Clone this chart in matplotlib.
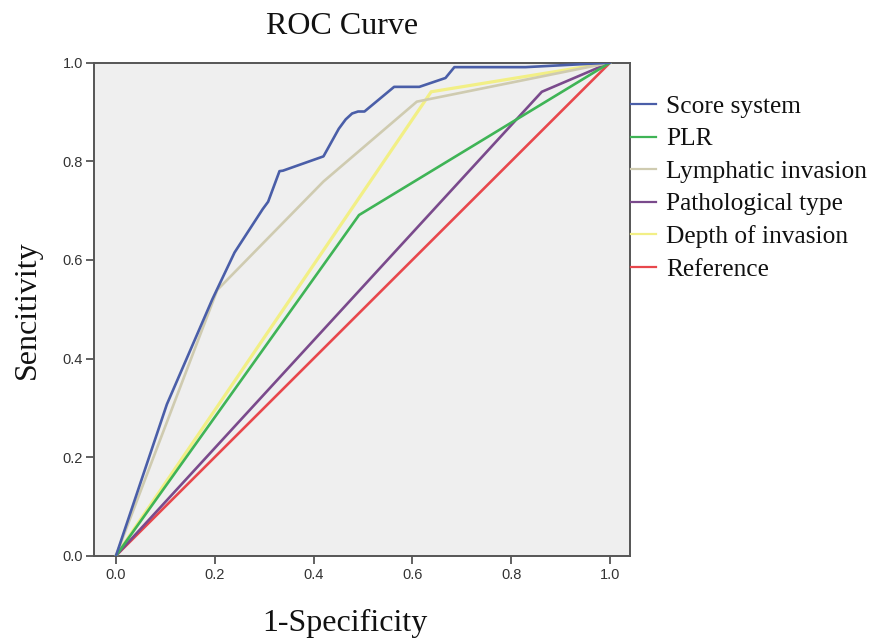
import matplotlib
matplotlib.use("Agg")
import matplotlib.pyplot as plt
from matplotlib.lines import Line2D

# ---- data ----
score_x = [0.0, 0.103, 0.195, 0.24, 0.297, 0.308, 0.331, 0.338, 0.42, 0.451, 0.465, 0.478, 0.49, 0.503, 0.563, 0.614, 0.667, 0.685, 0.829, 1.0]
score_y = [0.0, 0.307, 0.52, 0.615, 0.703, 0.718, 0.78, 0.781, 0.81, 0.866, 0.885, 0.897, 0.901, 0.901, 0.951, 0.951, 0.969, 0.991, 0.991, 1.0]

plr_x = [0.0, 0.492, 1.0]
plr_y = [0.0, 0.691, 1.0]

lymph_x = [0.0, 0.205, 0.42, 0.609, 1.0]
lymph_y = [0.0, 0.539, 0.759, 0.921, 1.0]

path_x = [0.0, 0.862, 1.0]
path_y = [0.0, 0.941, 1.0]

depth_x = [0.0, 0.638, 1.0]
depth_y = [0.0, 0.941, 1.0]

ref_x = [0.0, 1.0]
ref_y = [0.0, 1.0]

labels = ["Score system", "PLR", "Lymphatic invasion", "Pathological type",
          "Depth of invasion", "Reference"]
colors = ["#4a5ea8", "#3fb456", "#cfcbb0", "#7a4a8c", "#f2ef86", "#e8474c"]
ticks = [0.0, 0.2, 0.4, 0.6, 0.8, 1.0]
tick_labels = ["0.0", "0.2", "0.4", "0.6", "0.8", "1.0"]

W, H = 881, 638
fig = plt.figure(figsize=(W / 100, H / 100), dpi=100)
fig.patch.set_facecolor("white")

L, R, T, B = 93.5, 630.0, 62.7, 555.7
ax = fig.add_axes([L / W, 1 - B / H, (R - L) / W, (B - T) / H])
ax.set_facecolor("#efefef")

series = [(score_x, score_y), (plr_x, plr_y), (lymph_x, lymph_y),
          (path_x, path_y), (depth_x, depth_y), (ref_x, ref_y)]
# draw order: reference first, score on top
order = [5, 3, 1, 4, 2, 0]
for i in order:
    xs, ys = series[i]
    ax.plot(xs, ys, color=colors[i], lw=1.9 if i != 4 else 2.3,
            solid_joinstyle="round", zorder=3 + (5 - i) * 0.1)

ax.set_xlim(-0.0455, 1.0405)
ax.set_ylim(0.0, 1.0)
ax.set_xticks(ticks)
ax.set_xticklabels(tick_labels)
ax.set_yticks(ticks)
ax.set_yticklabels(tick_labels)
for sp in ax.spines.values():
    sp.set_color("#555555")
    sp.set_linewidth(1.4)
ax.tick_params(axis="both", direction="out", length=5.5, width=1.3, color="#555555",
               labelsize=10.5, labelcolor="#333333", pad=2)
ax.tick_params(axis="x", pad=3)
for lab in ax.get_xticklabels() + ax.get_yticklabels():
    lab.set_fontfamily("Liberation Sans")

serif = "Liberation Serif"
fig.text(342 / W, 1 - 27 / H, "ROC Curve", fontsize=23, family=serif,
         ha="center", va="center", color="#111111")
fig.text(345 / W, 1 - 623 / H, "1-Specificity", fontsize=23, family=serif,
         ha="center", va="center", color="#111111")
fig.text(27 / W, 1 - 310 / H, "Sencitivity", fontsize=23, family=serif,
         ha="center", va="center", rotation=90, color="#111111")

# legend drawn at the right of the axes
y0, dy = 104, 32.6
for i, (lab, c) in enumerate(zip(labels, colors)):
    yy = 1 - (y0 + i * dy) / H
    fig.add_artist(Line2D([631 / W, 656 / W], [yy, yy], color=c, lw=1.6,
                          transform=fig.transFigure))
    fig.text(666 / W, yy, lab, fontsize=18.3, family=serif, ha="left",
             va="center_baseline", color="#111111")

fig.savefig("out.png", dpi=100, facecolor="white")
